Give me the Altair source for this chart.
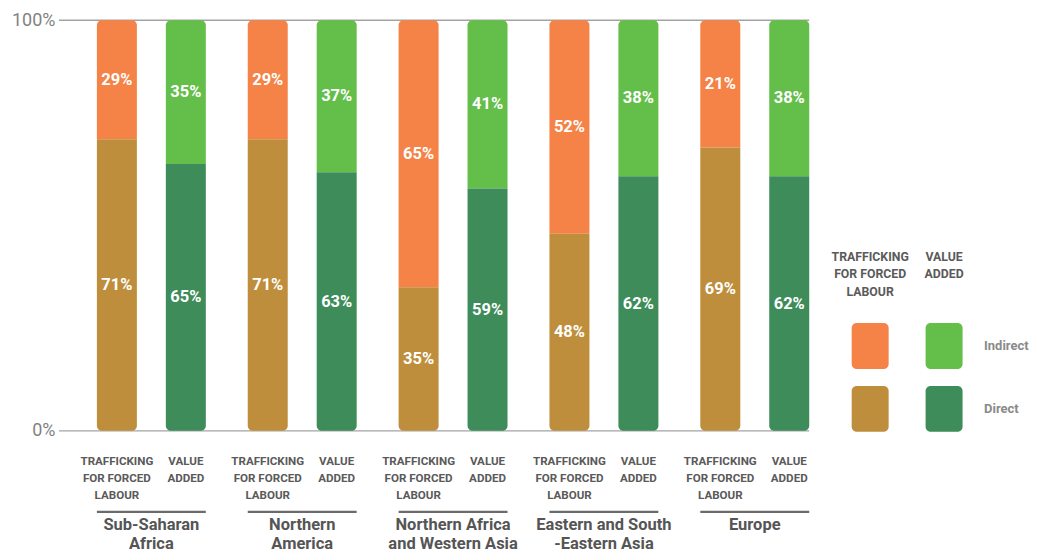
import altair as alt
import pandas as pd

# ---------------- data ----------------
regions = ["Sub-Saharan Africa", "Northern America", "Northern Africa and Western Asia",
           "Eastern and South-Eastern Asia", "Europe"]
region_lines = ["Sub-Saharan\nAfrica", "Northern\nAmerica", "Northern Africa\nand Western Asia",
                "Eastern and South\n-Eastern Asia", "Europe"]
types = ["TRAFFICKING FOR FORCED LABOUR", "VALUE ADDED"]
type_lines = ["TRAFFICKING\nFOR FORCED\nLABOUR", "VALUE\nADDED"]
type_keys = ["TFL", "VA"]
levels = ["Indirect", "Direct"]

tfl_direct = [71, 71, 35, 48, 69]
tfl_indirect = [29, 29, 65, 52, 21]
va_direct = [65, 63, 59, 62, 62]
va_indirect = [35, 37, 41, 38, 38]

y_ticks = [0, 1]  # 0% and 100%

color_keys = ["TFL Indirect", "TFL Direct", "VA Indirect", "VA Direct"]
color_vals = ["#F58246", "#BE8E3C", "#63BE4A", "#3D8C5A"]

# ---------------- tables ----------------
rows = []
for i, r in enumerate(regions):
    for t, tk, d, ind in [(types[0], type_keys[0], tfl_direct[i], tfl_indirect[i]),
                          (types[1], type_keys[1], va_direct[i], va_indirect[i])]:
        rows.append(dict(region=r, type=t, level="Direct", lo=0.0, hi=d / 100,
                         mid=d / 200, key=f"{tk} Direct", label=f"{d}%"))
        rows.append(dict(region=r, type=t, level="Indirect", lo=d / 100, hi=1.0,
                         mid=(d / 100 + 1) / 2, key=f"{tk} Indirect", label=f"{ind}%"))
df = pd.DataFrame(rows)

sub_df = pd.DataFrame([dict(region=r, type=t, tl=tl) for r in regions
                       for t, tl in zip(types, type_lines)])
reg_df = pd.DataFrame(dict(region=regions, rl=region_lines))
leg_df = pd.DataFrame([dict(type=t, level=l, key=f"{tk} {l}") for t, tk in zip(types, type_keys)
                       for l in levels])
legtype_df = pd.DataFrame(dict(type=types, tl=type_lines))
level_df = pd.DataFrame(dict(level=levels))
grid_df = pd.DataFrame(dict(v=y_ticks))

# ---------------- styling ----------------
FONT = "Roboto"
x_scale = alt.Scale(domain=regions, range=[17, 772], paddingInner=0, paddingOuter=0)
xo_scale = alt.Scale(domain=types, paddingInner=0.42, paddingOuter=0.304)
y_scale = alt.Scale(domain=[0, 1], nice=False)
color_scale = alt.Scale(domain=color_keys, range=color_vals)

X = alt.X("region:N", scale=x_scale, axis=None)
XO = alt.XOffset("type:N", scale=xo_scale)
y_axis = alt.Axis(values=y_ticks, format=".0%", grid=False, domain=False, ticks=False,
                  labelFont=FONT, labelFontSize=18, labelColor="#828282",
                  labelPadding=4, title=None)

gridlines = alt.Chart(grid_df).mark_rule(color="#a3a3a3", strokeWidth=1.3).encode(
    y=alt.Y("v:Q", scale=y_scale, axis=y_axis), x=alt.value(0), x2=alt.value(751))

indirect_bar = alt.Chart(df).transform_filter(alt.datum.level == "Indirect").mark_bar(
    cornerRadiusTopLeft=5, cornerRadiusTopRight=5).encode(
    x=X, xOffset=XO,
    y=alt.Y("lo:Q", scale=y_scale), y2="hi:Q",
    color=alt.Color("key:N", scale=color_scale, legend=None))

direct_bar = alt.Chart(df).transform_filter(alt.datum.level == "Direct").mark_bar(
    cornerRadiusBottomLeft=5, cornerRadiusBottomRight=5).encode(
    x=X, xOffset=XO,
    y=alt.Y("lo:Q", scale=y_scale), y2="hi:Q",
    color=alt.Color("key:N", scale=color_scale, legend=None))

values = alt.Chart(df).mark_text(font=FONT, fontWeight="bold", fontSize=16.5,
                                 color="white").encode(
    x=X, xOffset=XO, y=alt.Y("mid:Q", scale=y_scale), text="label:N")

sub_labels = alt.Chart(sub_df).mark_text(font=FONT, fontWeight="bold", fontSize=11.6,
                                         color="#5a5a5a",
                                         baseline="alphabetic", lineBreak="\n",
                                         lineHeight=17).encode(
    x=X, xOffset=XO, y=alt.value(445), text="tl:N")

underline = alt.Chart(reg_df).mark_bar(width=alt.RelativeBandSize(0.722),
                                       color="#6b6b6b").encode(
    x=X, y=alt.value(491), y2=alt.value(493.2))

region_labels = alt.Chart(reg_df).mark_text(font=FONT, fontWeight="bold", fontSize=16.5,
                                            color="#555555",
                                            baseline="alphabetic", lineBreak="\n",
                                            lineHeight=18.5).encode(
    x=X, y=alt.value(510.5), text="rl:N")

main = alt.layer(gridlines, indirect_bar, direct_bar, values, sub_labels, underline,
                 region_labels).properties(width=751, height=411)

# ---------------- legend ----------------
lx = alt.Scale(domain=types, paddingInner=0.5, paddingOuter=0.25)
ly = alt.Scale(domain=levels, range=[294.5, 420.5], paddingInner=0.27, paddingOuter=0.135)

squares = alt.Chart(leg_df).mark_rect(cornerRadius=5).encode(
    x=alt.X("type:N", scale=lx, axis=None),
    y=alt.Y("level:N", scale=ly, axis=None),
    color=alt.Color("key:N", scale=color_scale, legend=None))

leg_head = alt.Chart(legtype_df).mark_text(font=FONT, fontWeight="bold", fontSize=12.3,
                                           color="#5a5a5a",
                                           baseline="alphabetic", lineBreak="\n",
                                           lineHeight=17.7).encode(
    x=alt.X("type:N", scale=lx, axis=None), y=alt.value(240.5), text="tl:N")

leg_levels = alt.Chart(level_df).mark_text(font=FONT, fontWeight="bold", fontSize=13,
                                           color="#8a8a8a", align="left").encode(
    x=alt.value(151), y=alt.Y("level:N", scale=ly, axis=None), text="level:N")

legend = alt.layer(squares, leg_head, leg_levels).properties(width=148, height=411)

chart = alt.hconcat(main, legend, spacing=24, bounds="flush").properties(
    padding={"left": 3, "top": 3, "right": 0, "bottom": 0}
).configure_view(stroke=None)

chart.save("out.html", embed_options={"renderer": "svg", "actions": False})
